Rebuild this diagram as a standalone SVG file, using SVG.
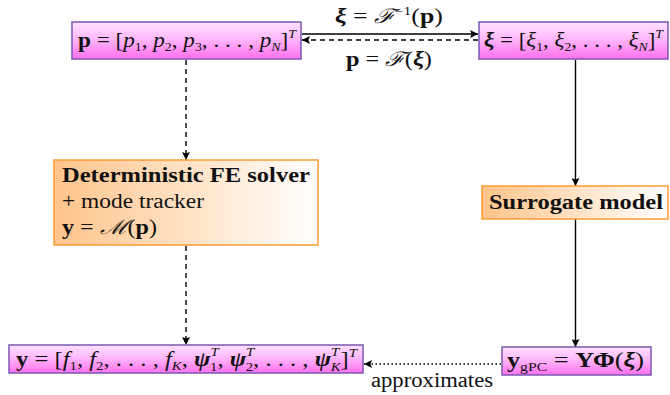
<svg xmlns="http://www.w3.org/2000/svg" width="670" height="395" viewBox="0 0 670 395">
<defs>
<linearGradient id="pink" x1="0" y1="0" x2="0" y2="1">
<stop offset="0" stop-color="#ffe2ff"/>
<stop offset="0.45" stop-color="#ffb8fb"/>
<stop offset="1" stop-color="#ff70ee"/>
</linearGradient>
<linearGradient id="orange" x1="0" y1="0" x2="1" y2="0">
<stop offset="0" stop-color="#ffc48a"/>
<stop offset="1" stop-color="#ffffff"/>
</linearGradient>
<marker id="ah" viewBox="0 0 10 10" refX="10" refY="5" markerWidth="8" markerHeight="8" markerUnits="userSpaceOnUse" orient="auto">
<path d="M0,0 L10,5 L0,10 L2,5 Z" fill="#000"/>
</marker>
</defs>
<style>
.pk{fill:url(#pink);stroke:#7a58b4;stroke-width:1.5}
.or{fill:url(#orange);stroke:#ff9a33;stroke-width:1.5}
text{font-family:"Liberation Serif","DejaVu Serif",serif;font-size:20px;fill:#111}
.b{font-weight:bold}
.i{font-style:italic}
.bi{font-weight:bold;font-style:italic}
.cal{font-family:"DejaVu Serif",serif;font-style:italic}
.sub{font-size:12px}
.solid{stroke:#000;stroke-width:1.4;fill:none}
.dash{stroke:#000;stroke-width:1.4;fill:none;stroke-dasharray:5,4}
.dot{stroke:#000;stroke-width:1.4;fill:none;stroke-dasharray:1.5,2.5}
</style>
<g id="connectors">
<line class="solid" x1="302" y1="34" x2="478" y2="34" marker-end="url(#ah)"/>
<line class="dash" x1="478" y1="40" x2="302" y2="40" marker-end="url(#ah)"/>
<line class="dash" x1="186" y1="60" x2="186" y2="160" marker-end="url(#ah)"/>
<line class="dash" x1="186" y1="246" x2="186" y2="345" marker-end="url(#ah)"/>
<line class="solid" x1="575.5" y1="60" x2="575.5" y2="186" marker-end="url(#ah)"/>
<line class="solid" x1="575.5" y1="219" x2="575.5" y2="347" marker-end="url(#ah)"/>
<line class="dot" x1="501" y1="364" x2="364" y2="364" marker-end="url(#ah)"/>
<text x="335" y="23" textLength="108" lengthAdjust="spacingAndGlyphs"><tspan class="bi">ξ</tspan> = <tspan class="cal">ℱ</tspan><tspan class="sub" dy="-8">−1</tspan><tspan dy="8">(</tspan><tspan class="b">p</tspan>)</text>
<text x="346" y="66" textLength="86" lengthAdjust="spacingAndGlyphs"><tspan class="b">p</tspan> = <tspan class="cal">ℱ</tspan>(<tspan class="bi">ξ</tspan>)</text>
<text x="371" y="387" textLength="122" lengthAdjust="spacingAndGlyphs">approximates</text>
</g>
<g id="node-p">
<rect class="pk" x="72" y="22" width="229" height="37"/>
<text x="78" y="47" textLength="218" lengthAdjust="spacingAndGlyphs"><tspan class="b">p</tspan> = [<tspan class="i">p</tspan><tspan class="sub" dy="4">1</tspan><tspan dy="-4">, </tspan><tspan class="i">p</tspan><tspan class="sub" dy="4">2</tspan><tspan dy="-4">, </tspan><tspan class="i">p</tspan><tspan class="sub" dy="4">3</tspan><tspan dy="-4">, . . . , </tspan><tspan class="i">p</tspan><tspan class="sub i" dy="4">N</tspan><tspan dy="-4">]</tspan><tspan class="sub i" dy="-9">T</tspan></text>
</g>
<g id="node-xi">
<rect class="pk" x="479" y="22" width="189" height="37"/>
<text x="484" y="47" textLength="179" lengthAdjust="spacingAndGlyphs"><tspan class="bi">ξ</tspan> = [<tspan class="i">ξ</tspan><tspan class="sub" dy="4">1</tspan><tspan dy="-4">, </tspan><tspan class="i">ξ</tspan><tspan class="sub" dy="4">2</tspan><tspan dy="-4">, . . . , </tspan><tspan class="i">ξ</tspan><tspan class="sub i" dy="4">N</tspan><tspan dy="-4">]</tspan><tspan class="sub i" dy="-9">T</tspan></text>
</g>
<g id="node-fe">
<rect class="or" x="54" y="160" width="264" height="85"/>
<text x="62" y="182" class="b" textLength="248" lengthAdjust="spacingAndGlyphs">Deterministic FE solver</text>
<text x="62" y="208" textLength="142" lengthAdjust="spacingAndGlyphs">+ mode tracker</text>
<text x="62" y="234" textLength="95" lengthAdjust="spacingAndGlyphs"><tspan class="b">y</tspan> = <tspan class="cal">ℳ</tspan>(<tspan class="b">p</tspan>)</text>
</g>
<g id="node-surrogate">
<rect class="or" x="482" y="186" width="186" height="33"/>
<text x="489" y="209" class="b" textLength="174" lengthAdjust="spacingAndGlyphs">Surrogate model</text>
</g>
<g id="node-y">
<rect class="pk" x="9" y="345" width="354" height="28"/>
<text x="16" y="366" textLength="341" lengthAdjust="spacingAndGlyphs"><tspan class="b">y</tspan> = [<tspan class="i">f</tspan><tspan class="sub" dy="4">1</tspan><tspan dy="-4">, </tspan><tspan class="i">f</tspan><tspan class="sub" dy="4">2</tspan><tspan dy="-4">, . . . , </tspan><tspan class="i">f</tspan><tspan class="sub i" dy="4">K</tspan><tspan dy="-4">, </tspan><tspan class="bi">ψ</tspan><tspan class="sub i" dy="-10">T</tspan><tspan class="sub" dx="-7" dy="15">1</tspan><tspan dy="-5">, </tspan><tspan class="bi">ψ</tspan><tspan class="sub i" dy="-10">T</tspan><tspan class="sub" dx="-7" dy="15">2</tspan><tspan dy="-5">, . . . , </tspan><tspan class="bi">ψ</tspan><tspan class="sub i" dy="-10">T</tspan><tspan class="sub i" dx="-7" dy="15">K</tspan><tspan dy="-5">]</tspan><tspan class="sub i" dy="-9">T</tspan></text>
</g>
<g id="node-ygpc">
<rect class="pk" x="502" y="347" width="149" height="28"/>
<text x="507" y="367" textLength="137" lengthAdjust="spacingAndGlyphs"><tspan class="b">y</tspan><tspan class="sub" dy="4">gPC</tspan><tspan dy="-4"> = </tspan><tspan class="b">ΥΦ</tspan>(<tspan class="bi">ξ</tspan>)</text>
</g>
</svg>
